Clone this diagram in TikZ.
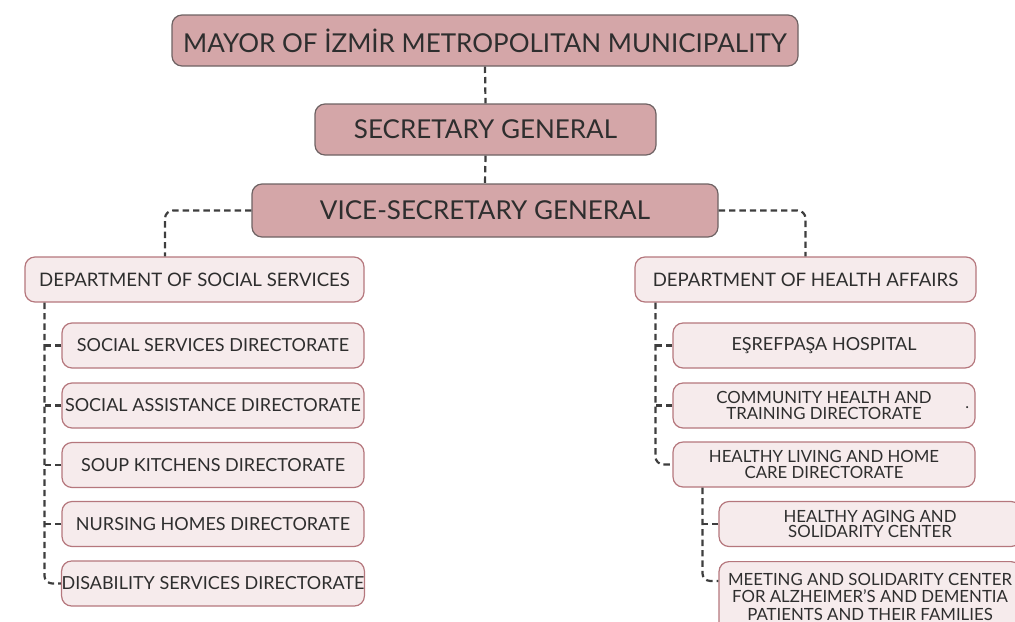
\documentclass[tikz,border=0pt]{standalone}
\usepackage{fontspec}
\setmainfont{Lato}
\usepackage{xcolor}
\usetikzlibrary{positioning}

\definecolor{headfill}{HTML}{D4A6A8}
\definecolor{headrim}{HTML}{6E6263}
\definecolor{unitfill}{HTML}{F6EBEC}
\definecolor{unitrim}{HTML}{B5777D}
\definecolor{inkgray}{HTML}{2E2E2E}
\definecolor{linkgray}{HTML}{3E3E3E}

\tikzset{
  head/.style={draw=headrim, fill=headfill, rounded corners=5pt, line width=0.6pt,
    inner sep=0pt, text=inkgray, font=\fontsize{13}{15}\selectfont},
  unit/.style={draw=unitrim, fill=unitfill, rounded corners=5pt, line width=0.6pt,
    inner sep=0pt, minimum width=151pt, minimum height=22.5pt, text=inkgray,
    font=\fontsize{9}{9}\selectfont, align=center},
  dept/.style={unit, font=\fontsize{9.3}{9.3}\selectfont},
  twoline/.style={font=\fontsize{8.4}{7.8}\selectfont},
  link/.style={draw=linkgray, line width=1.1pt, dash pattern=on 3.2pt off 2pt,
    rounded corners=4pt}
}

\begin{document}
\begin{tikzpicture}[x=0.5pt, y=-0.5pt]
    \useasboundingbox (0,0) rectangle (1015,621);

    % top of the chart
    \node[head, minimum width=313pt, minimum height=25.5pt] (mayor) at (485,40.5)
        {MAYOR OF İZMİR METROPOLITAN MUNICIPALITY};
    \node[head, minimum width=170.5pt, minimum height=25.5pt] (secgen) at (485.5,129.5)
        {SECRETARY GENERAL};
    \node[head, minimum width=233pt, minimum height=26.5pt] (vicesec) at (485,210.5)
        {VICE-SECRETARY GENERAL};

    \draw[link] (mayor.south) -- (secgen.north);
    \draw[link] (secgen.south) -- (vicesec.north);

    % social services branch
    \node[dept, minimum width=169.5pt] (social) at (194.5,279.5) {DEPARTMENT OF SOCIAL SERVICES};
    \node[unit] (ssd) at (213,345.5) {SOCIAL SERVICES DIRECTORATE};
    \node[unit] (sad) at (213,405.5) {SOCIAL ASSISTANCE DIRECTORATE};
    \node[unit] (skd) at (213,465) {SOUP KITCHENS DIRECTORATE};
    \node[unit] (nhd) at (213,524) {NURSING HOMES DIRECTORATE};
    \node[unit] (dsd) at (213,583.5) {DISABILITY SERVICES DIRECTORATE};

    \draw[link] (vicesec.west) -| ([xshift=-14.75pt]social.north);
    \coordinate (trunkL) at ([xshift=10pt]social.south west);
    \draw[link] (trunkL) |- (dsd.west);
    \foreach \n in {ssd,sad,skd,nhd}
        \draw[link] (\n.west) -- (\n.west -| trunkL);

    % health affairs branch
    \node[dept, minimum width=170.5pt] (health) at (805.5,279.5) {DEPARTMENT OF HEALTH AFFAIRS};
    \node[unit] (hosp) at (824,345.5) {EŞREFPAŞA HOSPITAL};
    \node[unit, twoline, label={[anchor=east, inner sep=0pt, xshift=-3pt, yshift=-1pt,
        font=\fontsize{8}{8}\selectfont, text=inkgray]east:.}] (chtd) at (824,405.5)
        {COMMUNITY HEALTH AND\\TRAINING DIRECTORATE};
    \node[unit, twoline] (hlhc) at (824,464.5) {HEALTHY LIVING AND HOME\\CARE DIRECTORATE};

    \draw[link] (vicesec.east) -| (health.north);
    \coordinate (trunkR) at ([xshift=10.5pt]health.south west);
    \draw[link] (trunkR) |- (hlhc.west);
    \foreach \n in {hosp,chtd}
        \draw[link] (\n.west) -- (\n.west -| trunkR);

    % centres under healthy living
    \node[unit, twoline] (aging) at (870,524) {HEALTHY AGING AND\\SOLIDARITY CENTER};
    \node[unit, twoline, anchor=north, minimum height=35pt,
        font=\fontsize{8.4}{8.7}\selectfont] (meet) at (870,561)
        {MEETING AND SOLIDARITY CENTER\\FOR ALZHEIMER'S AND DEMENTIA\\PATIENTS AND THEIR FAMILIES};

    \coordinate (trunkH) at ([xshift=15pt]hlhc.south west);
    \draw[link] (trunkH) |- ([yshift=-10pt]meet.north west);
    \draw[link] (aging.west) -- (aging.west -| trunkH);
\end{tikzpicture}
\end{document}
